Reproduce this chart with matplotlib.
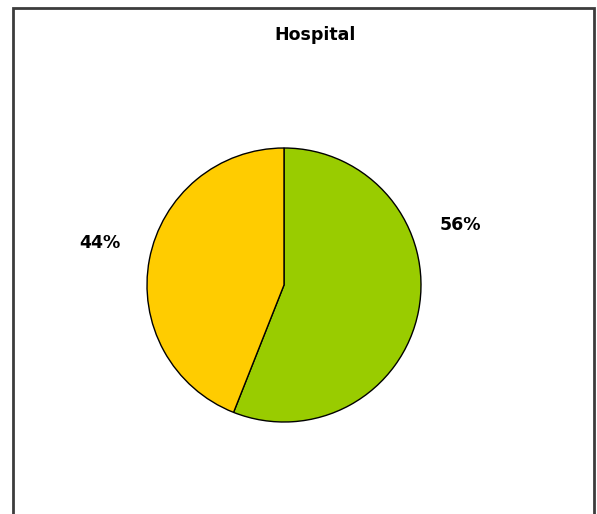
import matplotlib.pyplot as plt
from matplotlib.patches import Rectangle

labels = ["56%", "44%"]
shares = [56, 44]
colors = ["#99CC00", "#FFCC00"]

W, H = 597, 514
fig = plt.figure(figsize=(W / 100, H / 100), dpi=100)
ax = fig.add_axes([0, 0, 1, 1])
ax.set_xlim(0, W)
ax.set_ylim(0, H)
ax.set_aspect("equal")
ax.axis("off")

# chart frame, open at the bottom edge
ax.add_patch(Rectangle((13, -10), 581, H - 8 + 10, fill=False,
                       edgecolor="#3c3c3c", linewidth=2))

ax.pie(shares, colors=colors, startangle=90, counterclock=False,
       center=(284, H - 285), radius=137,
       wedgeprops=dict(edgecolor="black", linewidth=1))
ax.set_xlim(0, W)
ax.set_ylim(0, H)

font = dict(family="DejaVu Sans", weight="heavy", fontsize=12.5)
ax.text(460, H - 225, labels[0], ha="center", va="center", **font)
ax.text(100, H - 243, labels[1], ha="center", va="center", **font)
ax.text(315, H - 35, "Hospital", ha="center", va="center", **font)

fig.savefig("out.png", dpi=100)
